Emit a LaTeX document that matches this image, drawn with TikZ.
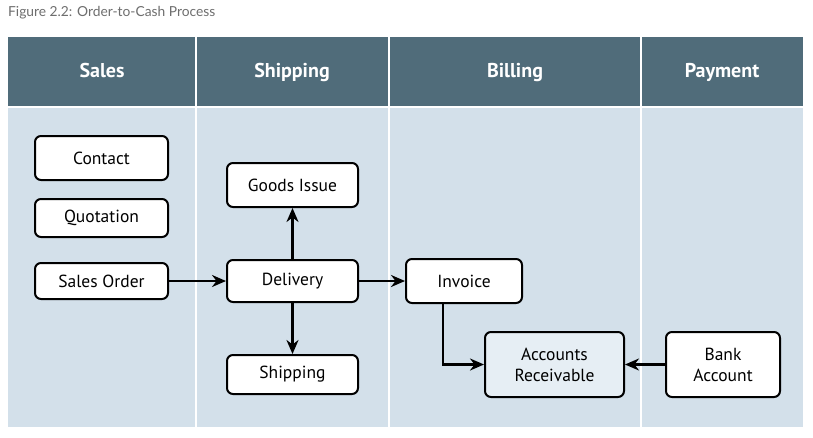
\documentclass[tikz,border=0pt]{standalone}
\usepackage{fontspec}
\setmainfont{PT Sans}
\newfontfamily\capfont{Lato}
\usetikzlibrary{arrows.meta}
\definecolor{hdr}{HTML}{506C7A}
\definecolor{bodyc}{HTML}{D3E0EA}
\definecolor{arfill}{HTML}{E6EEF4}
\definecolor{capc}{HTML}{6E6E6E}
\tikzset{
  box/.style={draw=black, line width=2pt, rounded corners=6pt, fill=white, font=\fontsize{17.5}{21}\selectfont, align=center, inner sep=0pt},
  conn/.style={line width=2.4pt, -{Stealth[length=14pt,width=12pt]}},
  hdrtext/.style={text=white, anchor=base, inner sep=0pt, font=\bfseries\fontsize{20}{23}\selectfont}
}
\begin{document}
\begin{tikzpicture}[x=1pt,y=-1pt]
\useasboundingbox (0,0) rectangle (813,437);
\fill[white] (0,0) rectangle (813,437);
\node[anchor=west, text=capc, font=\capfont\fontsize{13.8}{15}\selectfont, inner sep=0pt] (cap) at (8,13) {Figure 2.2: Order-to-Cash Process};
% header and body
\fill[hdr] (8,37) rectangle (803,106);
\fill[bodyc] (8,108) rectangle (803,427);
\foreach \x in {196,389,641} \fill[white] (\x-1,37) rectangle (\x+1,427);
\fill[white] (8,106) rectangle (803,108);
\node[hdrtext] (hs) at (102,77.5) {Sales};
\node[hdrtext] (hsh) at (292,77.5) {Shipping};
\node[hdrtext] (hb) at (515,77.5) {Billing};
\node[hdrtext] (hp) at (722,77.5) {Payment};
% boxes
\node[box, minimum width=133pt, minimum height=44pt] (contact) at (101.5,158) {Contact};
\node[box, minimum width=133pt, minimum height=38pt] (quot) at (101.5,218) {Quotation};
\node[box, minimum width=133pt, minimum height=36pt] (so) at (101.5,281) {Sales Order};
\node[box, minimum width=131pt, minimum height=44pt] (gi) at (292.5,185) {Goods Issue};
\node[box, minimum width=131pt, minimum height=42pt] (del) at (292.5,281) {Delivery};
\node[box, minimum width=131pt, minimum height=39pt] (ship) at (292.5,374.5) {Shipping};
\node[box, minimum width=116pt, minimum height=44pt] (inv) at (464,281) {Invoice};
\node[box, fill=arfill, minimum width=139pt, minimum height=65pt] (ar) at (554.5,364.5) {Accounts\\Receivable};
\node[box, minimum width=114pt, minimum height=65pt] (bank) at (723,364.5) {Bank\\Account};
% connectors
\draw[conn] (so) -- (del);
\draw[conn] (del) -- (inv);
\draw[conn] (del) -- (gi);
\draw[conn] (del) -- (ship);
\draw[conn] (inv.south -| 443,0) |- (ar.west);
\draw[conn] (bank) -- (ar);
\end{tikzpicture}
\end{document}
